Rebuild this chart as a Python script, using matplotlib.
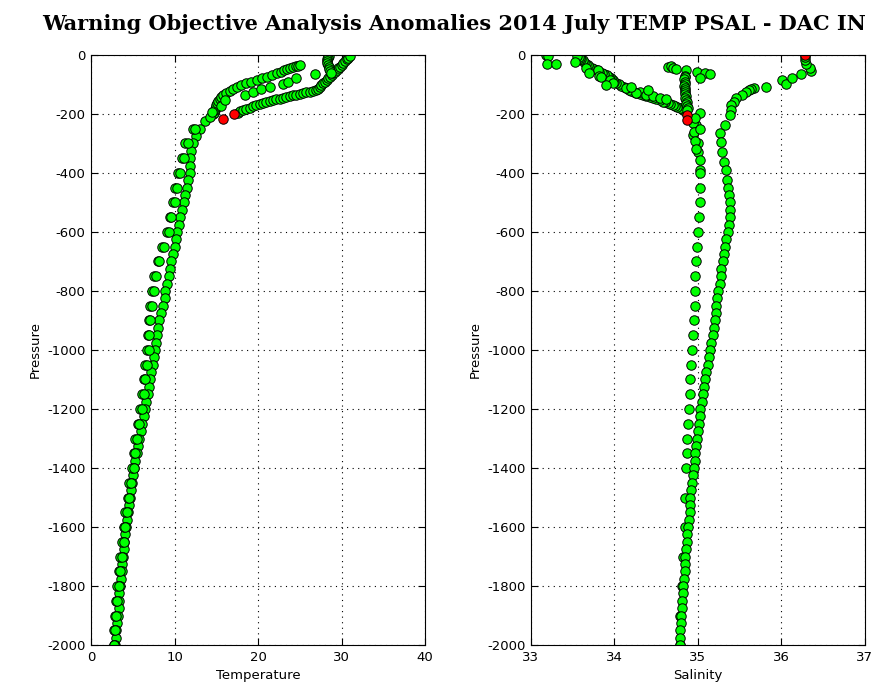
import numpy as np
import matplotlib
matplotlib.use('Agg')
import matplotlib.pyplot as plt

plt.rcParams['axes.unicode_minus'] = False
plt.rcParams['font.family'] = 'DejaVu Sans'

# ---------------- temperature profiles ----------------
# deep profile, dense (25 dbar)
t1_pres = [200, 225, 250, 275, 300, 325, 350, 375, 400, 425, 450, 475, 500, 525, 550, 575,
           600, 625, 650, 675, 700, 725, 750, 775, 800, 825, 850, 875, 900, 925, 950, 975,
           1000, 1025, 1050, 1075, 1100, 1125, 1150, 1175, 1200, 1225, 1250, 1275, 1300,
           1325, 1350, 1375, 1400, 1425, 1450, 1475, 1500, 1525, 1550, 1575, 1600, 1625,
           1650, 1675, 1700, 1725, 1750, 1775, 1800, 1825, 1850, 1875, 1900, 1925, 1950,
           1975, 2000]
t1_temp = [14.6, 13.6, 13.0, 12.6, 12.2, 12.0, 11.9, 11.9, 11.8, 11.6, 11.5, 11.3, 11.1, 10.9,
           10.7, 10.5, 10.3, 10.2, 10.0, 9.8, 9.6, 9.5, 9.3, 9.1, 8.9, 8.8, 8.6, 8.4, 8.2, 8.0,
           7.9, 7.8, 7.7, 7.5, 7.4, 7.2, 7.1, 6.9, 6.8, 6.6, 6.5, 6.3, 6.1, 6.0, 5.8, 5.6, 5.5,
           5.3, 5.1, 5.0, 4.9, 4.8, 4.7, 4.5, 4.4, 4.3, 4.2, 4.1, 4.0, 3.9, 3.8, 3.7, 3.7, 3.6,
           3.5, 3.4, 3.4, 3.3, 3.2, 3.1, 3.0, 3.0, 2.9]

# deep profile, sparse (50 dbar), drawn as pairs
t2_pres = [250, 300, 350, 400, 450, 500, 550, 600, 650, 700, 750, 800, 850, 900, 950, 1000,
           1050, 1100, 1150, 1200, 1250, 1300, 1350, 1400, 1450, 1500, 1550, 1600, 1650,
           1700, 1750, 1800, 1850, 1900, 1950, 2000]
t2_temp_a = [12.2, 11.3, 10.9, 10.4, 10.1, 9.8, 9.4, 9.1, 8.5, 8.0, 7.6, 7.3, 7.1, 6.9, 6.8,
             6.7, 6.5, 6.3, 6.1, 5.9, 5.6, 5.3, 5.1, 4.9, 4.6, 4.4, 4.1, 3.9, 3.7, 3.5, 3.3,
             3.1, 3.0, 2.9, 2.8, 2.7]
t2_temp_b = [12.5, 11.6, 11.1, 10.6, 10.3, 10.0, 9.6, 9.3, 8.7, 8.2, 7.8, 7.5, 7.3, 7.1, 7.0,
             6.9, 6.7, 6.5, 6.3, 6.1, 5.8, 5.5, 5.3, 5.1, 4.8, 4.6, 4.3, 4.1, 3.9, 3.7, 3.5,
             3.3, 3.1, 3.0, 2.9, 2.8]

# upper thermocline branches
t3_pres = [195, 188, 182, 175, 169, 163, 157, 150, 143, 136, 129, 122, 115, 108, 102, 96, 90,
           85, 79, 73, 67, 61, 56, 52, 48, 44, 41, 38, 36, 34]
t3_temp = [14.7, 14.8, 14.9, 15.0, 15.0, 15.1, 15.2, 15.4, 15.6, 15.8, 16.2, 16.6, 17.0, 17.5,
           18.0, 18.6, 19.2, 19.9, 20.5, 21.1, 21.7, 22.3, 22.7, 23.1, 23.5, 23.8, 24.2, 24.5,
           24.8, 25.0]
t4_pres = [195, 190, 186, 182, 178, 174, 170, 166, 163, 159, 156, 153, 150, 148, 146, 143, 140,
           137, 135, 132, 129, 126, 124, 121, 119, 115, 110, 102, 95, 90, 85, 79, 73, 68, 62,
           56, 51, 45, 40, 33, 27, 21, 15, 9, 3]
t4_temp = [17.6, 17.9, 18.2, 18.6, 19.0, 19.4, 19.8, 20.2, 20.6, 21.0, 21.4, 21.8, 22.2, 22.6,
           23.0, 23.4, 23.8, 24.2, 24.6, 25.0, 25.4, 25.8, 26.2, 26.6, 27.0, 27.2, 27.4, 27.6,
           27.8, 28.0, 28.2, 28.4, 28.6, 28.8, 29.0, 29.2, 29.4, 29.6, 29.8, 30.0, 30.2, 30.4,
           30.6, 30.8, 31.0]
t5_pres = [210, 192, 172, 153, 136, 124, 116, 107, 98, 90, 78, 64]
t5_temp = [14.2, 14.5, 15.6, 16.0, 18.4, 19.4, 20.4, 21.4, 23.0, 23.6, 24.6, 26.8]
t6_pres = [0, 4, 9, 15, 22, 27, 33, 40, 47, 54, 61]
t6_temp = [28.4, 28.5, 28.4, 28.3, 28.2, 28.3, 28.4, 28.5, 28.5, 28.6, 28.7]
t_red_pres = [217, 200]
t_red_temp = [15.8, 17.1]

# ---------------- salinity profiles ----------------
s1_pres = [198, 237, 271, 299, 328, 356, 390, 400, 450, 500, 550, 600, 650, 700, 750, 800,
           850, 900, 950, 1000, 1050, 1100, 1150, 1200, 1250, 1300, 1350, 1400, 1500, 1600,
           1700, 1800, 1900, 2000]
s1_psal = [35.02, 34.98, 34.94, 35.00, 35.00, 35.02, 35.02, 35.03, 35.02, 35.02, 35.01, 35.00,
           34.99, 34.98, 34.97, 34.96, 34.97, 34.95, 34.94, 34.93, 34.92, 34.91, 34.90, 34.89,
           34.88, 34.87, 34.87, 34.86, 34.85, 34.84, 34.82, 34.81, 34.79, 34.78]
s1b_pres = [230, 260, 290, 320, 250, 215]
s1b_psal = [34.94, 34.95, 34.96, 34.98, 35.03, 34.97]

s2_pres = [108, 111, 115, 119, 125, 134, 147, 160, 170, 185, 203, 237, 265, 294, 328, 362, 390,
           425, 450, 475, 500, 525, 550, 575, 600, 625, 650, 675, 700, 725, 750, 775, 800, 825,
           850, 875, 900, 925, 950, 975, 1000, 1025, 1050, 1075, 1100, 1125, 1150, 1175, 1200,
           1225, 1250, 1275, 1300, 1325, 1350, 1375, 1400, 1425, 1450, 1475, 1500, 1525, 1550,
           1575, 1600, 1625, 1650, 1675, 1700, 1725, 1750, 1775, 1800, 1825, 1850, 1875, 1900,
           1925, 1950, 1975, 2000]
s2_psal = [35.81, 35.67, 35.64, 35.61, 35.57, 35.53, 35.46, 35.43, 35.40, 35.40, 35.38, 35.32,
           35.26, 35.28, 35.29, 35.31, 35.34, 35.35, 35.36, 35.37, 35.38, 35.38, 35.38, 35.37,
           35.36, 35.34, 35.32, 35.31, 35.30, 35.28, 35.27, 35.26, 35.24, 35.23, 35.22, 35.21,
           35.20, 35.19, 35.18, 35.16, 35.15, 35.13, 35.12, 35.10, 35.09, 35.07, 35.06, 35.05,
           35.03, 35.02, 35.01, 35.00, 34.99, 34.98, 34.97, 34.96, 34.95, 34.94, 34.93, 34.92,
           34.91, 34.90, 34.90, 34.89, 34.88, 34.87, 34.87, 34.86, 34.85, 34.85, 34.84, 34.83,
           34.82, 34.82, 34.81, 34.81, 34.80, 34.80, 34.79, 34.79, 34.78]
s3_pres = [85, 99, 79, 65, 54, 43, 32, 17, 8]
s3_psal = [36.01, 36.05, 36.13, 36.23, 36.35, 36.34, 36.29, 36.28, 36.28]

s4_pres = [190, 185, 181, 178, 175, 172, 170, 167, 164, 161, 158, 154, 150, 146, 141, 138, 135,
           132, 130, 126, 122, 118, 113, 109, 105, 100, 96, 90, 85, 79, 73, 69, 65, 60, 56, 52,
           48, 44, 40, 35, 30, 24, 17, 13, 10, 6, 2]
s4_psal = [34.84, 34.82, 34.80, 34.78, 34.75, 34.72, 34.70, 34.67, 34.64, 34.61, 34.58, 34.54,
           34.50, 34.46, 34.42, 34.38, 34.34, 34.30, 34.26, 34.23, 34.20, 34.17, 34.14, 34.11,
           34.08, 34.05, 34.02, 34.00, 33.98, 33.96, 33.94, 33.91, 33.88, 33.85, 33.82, 33.79,
           33.76, 33.73, 33.70, 33.68, 33.66, 33.64, 33.62, 33.60, 33.59, 33.57, 33.55]
s5_pres = [45, 50, 62, 70, 73, 85, 96, 102, 113, 125, 130, 136, 140, 23, 110, 120, 145, 150]
s5_psal = [33.66, 33.80, 33.70, 33.82, 33.84, 33.95, 33.98, 33.90, 34.14, 34.30, 34.26, 34.38,
           34.46, 33.53, 34.20, 34.40, 34.55, 34.62]
s6_pres = [0, 1, 3, 29, 29]
s6_psal = [33.19, 33.18, 33.20, 33.19, 33.30]
s7_pres = [40, 37, 43, 47, 51, 56, 62, 64, 78, 70, 75, 82, 90, 97, 104, 111, 118, 125, 132,
           139, 146, 153, 160, 166, 172, 178, 185]
s7_psal = [34.64, 34.68, 34.70, 34.74, 34.86, 34.99, 35.08, 35.14, 35.02, 34.84, 34.84, 34.83,
           34.84, 34.84, 34.83, 34.84, 34.85, 34.84, 34.85, 34.86, 34.85, 34.86, 34.87, 34.86,
           34.87, 34.88, 34.87]
s_red_pres = [205, 220, 1]
s_red_psal = [34.87, 34.87, 36.28]

green = '#00ff00'
mk = dict(linestyle='none', marker='o', ms=6.8, mec='k', mew=0.7)

fig = plt.figure(figsize=(8.82, 6.97), dpi=100)
ax1 = fig.add_axes([0.1032, 0.0746, 0.3787, 0.8465])
ax2 = fig.add_axes([0.602, 0.0746, 0.3787, 0.8465])

ax1.plot(t1_temp, -np.array(t1_pres), mfc=green, **mk)
ax1.plot(t2_temp_a, -np.array(t2_pres), mfc=green, **mk)
ax1.plot(t2_temp_b, -np.array(t2_pres), mfc=green, **mk)
ax1.plot(t3_temp, -np.array(t3_pres), mfc=green, **mk)
ax1.plot(t4_temp, -np.array(t4_pres), mfc=green, **mk)
ax1.plot(t5_temp, -np.array(t5_pres), mfc=green, **mk)
ax1.plot(t6_temp, -np.array(t6_pres), mfc=green, **mk)
ax1.plot(t_red_temp, -np.array(t_red_pres), mfc='red', **mk)

ax2.plot(s1_psal, -np.array(s1_pres), mfc=green, **mk)
ax2.plot(s1b_psal, -np.array(s1b_pres), mfc=green, **mk)
ax2.plot(s2_psal, -np.array(s2_pres), mfc=green, **mk)
ax2.plot(s3_psal, -np.array(s3_pres), mfc=green, **mk)
ax2.plot(s4_psal, -np.array(s4_pres), mfc=green, **mk)
ax2.plot(s5_psal, -np.array(s5_pres), mfc=green, **mk)
ax2.plot(s6_psal, -np.array(s6_pres), mfc=green, **mk)
ax2.plot(s7_psal, -np.array(s7_pres), mfc=green, **mk)
ax2.plot(s_red_psal, -np.array(s_red_pres), mfc='red', **mk)

for ax, xl, xt in [(ax1, 'Temperature', [0, 10, 20, 30, 40]),
                   (ax2, 'Salinity', [33, 34, 35, 36, 37])]:
    ax.set_xlim(xt[0], xt[-1])
    ax.set_ylim(-2000, 0)
    ax.set_xticks(xt)
    ax.set_yticks(np.arange(-2000, 1, 200))
    ax.grid(True, color='k', linestyle=(0, (1, 4)), linewidth=0.8)
    ax.tick_params(direction='in', top=True, right=True, length=5, labelsize=9.5, pad=4)
    ax.set_xlabel(xl, fontsize=9.5, labelpad=4)
    ax.set_ylabel('Pressure', fontsize=9.5, labelpad=4)
    for s in ax.spines.values():
        s.set_linewidth(0.8)

fig.text(0.515, 0.966, 'Warning Objective Analysis Anomalies 2014 July TEMP PSAL - DAC IN',
         ha='center', va='center', fontsize=15, fontweight='bold', family='DejaVu Serif')

fig.savefig('out.png', dpi=100)
